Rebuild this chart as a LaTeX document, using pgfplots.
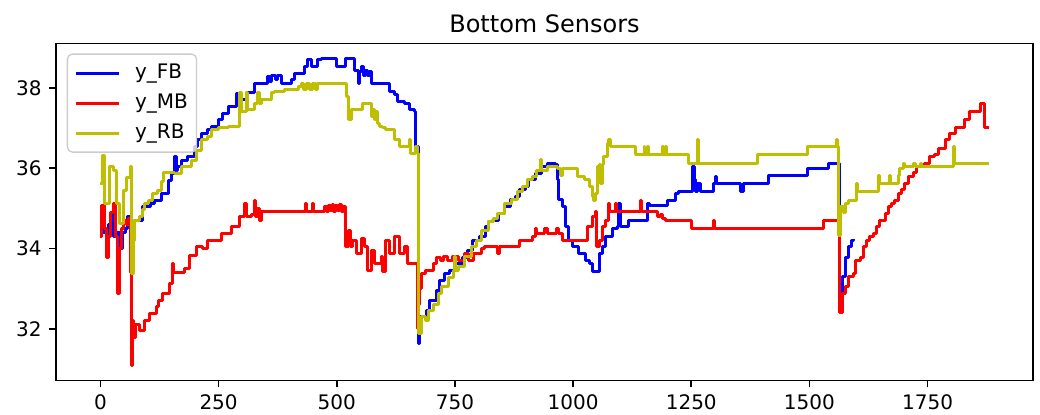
\documentclass[border=0pt]{standalone}
\usepackage{fontspec}
\setmainfont{DejaVu Sans}
\usepackage{pgfplots}
\pgfplotsset{compat=1.18}
\definecolor{myy}{rgb}{0.75,0.75,0}
\begin{document}
\begin{tikzpicture}
\useasboundingbox (-33.6pt,-20.4pt) rectangle (590.4pt,228.2pt);
\begin{axis}[
  at={(0pt,0pt)}, anchor=south west,
  scale only axis, width=586.2pt, height=202.2pt,
  xmin=-94, xmax=1973, ymin=30.723, ymax=39.105,
  xtick={0,250,500,750,1000,1250,1500,1750},
  ytick={32,34,36,38},
  tick align=outside, xtick pos=left, ytick pos=left,
  major tick length=4.2pt,
  tick style={black, line width=0.96pt},
  axis line style={line width=0.96pt},
  /pgf/number format/assume math mode=true,
  /pgf/number format/1000 sep={},
  tick label style={font=\fontsize{12}{14}\selectfont, inner sep=0pt},
  xticklabel shift=4.2pt, yticklabel shift=4.2pt,
  title={Bottom Sensors},
  title style={anchor=base, yshift=0.6pt, font=\fontsize{14.4}{17}\selectfont},
  legend cell align=left,
  legend style={at={(axis description cs:0.011,0.970)}, anchor=north west,
    draw=black!20, line width=0.8pt, fill=white, fill opacity=0.8, text opacity=1, rounded corners=3pt,
    font=\fontsize{12}{14}\selectfont, row sep=6pt, column sep=9.6pt,
    nodes={inner sep=0pt, text height=9pt, text depth=3pt},
    inner xsep=5.2pt, inner ysep=5.4pt},
  legend image code/.code={\draw[#1, line cap=rect] (0.9pt,0pt) -- (24.9pt,0pt);},
  every axis plot/.append style={line width=1.8pt, line join=round, const plot},
]
\addplot[blue] table {
x y
0 34.3
3 34.7
7 34.4
12 33.8
17 34.6
23 34.9
28 34.3
35 34.4
40 34.0
46 34.4
52 34.5
58 34.8
63 34.4
68 34.6
73 34.71
90 35.04
105 35.12
115 35.2
129 35.37
143 35.7
150 35.87
157 36.28
160 35.95
164 36.03
171 36.2
185 36.29
199 36.54
206 36.71
213 36.87
227 36.95
234 37.04
249 37.2
259 37.37
270 37.54
288 37.86
292 37.7
309 37.87
326 38.11
354 38.28
358 38.15
362 38.3
370 38.2
375 38.3
383 38.11
404 38.2
411 38.36
432 38.53
439 38.7
446 38.53
460 38.7
467 38.72
500 38.53
518 38.72
538 38.44
545 38.11
548 38.4
552 38.53
556 38.3
560 38.44
565 38.3
569 38.4
573 38.11
608 38.11
612 37.9
622 37.83
629 37.66
643 37.62
653 37.45
664 37.4
667 36.53
672 36.5
673 31.64
676 32.3
689 32.46
696 32.71
710 32.96
717 33.21
728 33.38
738 33.46
752 33.63
766 33.79
777 33.96
787 34.21
801 34.29
815 34.54
822 34.67
829 34.71
843 34.88
854 35.04
868 35.21
878 35.29
886 35.46
900 35.54
906 35.71
920 35.87
934 36.04
945 36.12
963 36.1
966 35.71
970 35.21
977 35.04
984 34.54
991 34.21
998 34.04
1012 33.88
1027 33.71
1034 33.63
1041 33.42
1051 33.42
1055 33.88
1062 34.04
1069 34.29
1083 34.5
1093 34.54
1097 35.12
1100 34.54
1118 34.71
1157 35.12
1161 35.08
1199 35.2
1217 35.37
1224 35.42
1252 36.04
1256 35.71
1259 35.42
1264 35.62
1270 35.42
1298 35.62
1301 35.79
1304 35.62
1355 35.42
1361 35.62
1414 35.83
1495 36.0
1541 36.12
1563 32.8
1569 33.3
1576 33.79
1583 34.04
1590 34.2
1594 34.25
};
\addlegendentry{y\_FB}
\addplot[red] table {
x y
0 34.29
3 35.08
8 34.5
13 33.79
18 34.3
22 34.9
27 35.12
31 34.3
37 32.88
41 34.0
45 34.5
48 34.71
55 34.6
60 34.76
64 33.4
65.5 31.1
68 32.22
70 31.8
74 32.1
83 31.97
94 32.22
104 32.38
118 32.55
123 32.71
132 32.88
146 33.13
153 33.63
155 33.4
178 33.5
189 33.84
203 34.04
216 34.0
227 34.21
256 34.38
277 34.54
294 34.79
305 35.12
308 34.79
320 34.85
326 35.2
329 34.79
333 35.0
336 34.7
340 34.91
434 35.12
437 34.91
448 35.12
451 34.91
475 35.04
478 34.91
482 35.08
486 34.95
490 35.1
494 34.93
498 35.08
502 34.95
506 35.1
510 34.93
514 35.04
518 34.04
524 34.46
529 34.04
534 34.21
541 33.88
552 34.25
559 34.04
566 33.46
573 33.96
580 33.63
594 33.8
597 33.42
604 34.21
611 33.88
622 34.29
633 33.88
643 34.04
650 33.63
671 32.0
673 32.6
676 33.0
680 33.38
687 33.46
704 33.63
711 33.79
720 33.7
725 33.8
735 33.7
745 33.8
757 33.71
771 33.88
778 33.71
789 33.88
806 34.0
813 34.04
836 34.04
840 33.88
845 34.04
886 34.21
914 34.29
920 34.5
922 34.38
940 34.5
945 34.38
965 34.5
970 34.38
978 34.21
1030 34.54
1040 34.79
1048 34.91
1050 34.04
1055 34.21
1062 34.54
1069 34.71
1074 35.12
1078 34.91
1089 35.12
1092 34.91
1142 35.2
1145 34.91
1178 34.79
1185 34.85
1190 34.75
1196 34.71
1250 34.5
1297 34.71
1300 34.5
1530 34.71
1563 32.42
1569 32.88
1576 33.05
1583 33.3
1593 33.38
1597 33.7
1607 33.79
1614 34.04
1621 34.21
1628 34.29
1635 34.38
1642 34.54
1649 34.7
1660 34.87
1667 35.04
1674 35.12
1681 35.2
1688 35.37
1695 35.46
1702 35.63
1709 35.79
1720 35.88
1727 36.04
1737 36.08
1744 36.12
1755 36.29
1765 36.33
1772 36.5
1787 36.71
1797 36.87
1808 37.0
1829 37.2
1839 37.4
1861 37.6
1870 37.0
1879 37.0
};
\addlegendentry{y\_MB}
\addplot[myy] table {
x y
0 35.62
4 36.32
9 35.12
20 36.03
27 35.95
34 35.12
41 34.62
48 35.45
55 35.78
63 36.03
65.5 33.38
70 34.21
73 34.71
83 34.8
88 34.96
93 35.12
102 35.2
111 35.37
120 35.45
129 35.67
134 35.9
157 35.87
171 36.04
192 36.2
203 36.45
213 36.71
227 36.79
234 36.95
249 37.0
270 37.04
295 37.87
298 37.4
309 37.87
312 37.45
326 37.62
333 37.87
336 37.62
340 37.7
361 37.87
368 37.9
389 37.95
418 38.03
425 38.11
430 37.95
436 38.11
442 37.95
448 38.11
454 37.95
460 38.11
516 38.11
520 37.78
524 37.2
531 37.45
555 37.62
573 37.29
576 37.45
580 37.2
583 37.4
586 37.1
590 37.04
597 37.0
604 36.95
622 36.71
632 36.54
653 36.71
657 36.37
667 36.54
671 36.37
673 31.89
680 32.3
687 32.2
694 32.46
704 32.6
715 32.88
722 33.05
736 33.29
746 33.46
750 33.8
752 33.46
757 33.55
771 33.8
785 34.04
796 34.2
806 34.46
820 34.67
831 34.75
841 34.87
855 35.12
869 35.21
883 35.42
894 35.54
904 35.71
915 35.79
922 35.95
932 36.21
934 35.95
946 36.04
968 36.0
974 35.83
978 36.0
1010 35.79
1024 35.71
1034 35.54
1041 35.29
1044 35.2
1048 35.37
1051 36.04
1055 36.1
1058 35.62
1062 36.1
1065 36.29
1072 36.62
1075 36.71
1079 36.54
1132 36.33
1150 36.54
1152 36.33
1157 36.54
1159 36.33
1189 36.54
1191 36.33
1196 36.54
1198 36.33
1245 36.12
1263 36.71
1265 36.12
1390 36.33
1495 36.54
1557 36.71
1559 36.54
1562 34.33
1566 35.04
1573 34.9
1576 35.12
1583 35.2
1600 35.62
1602 35.42
1646 35.83
1648 35.62
1670 35.83
1672 35.62
1688 35.83
1691 36.0
1698 36.12
1702 36.04
1720 36.12
1724 36.04
1735 36.12
1738 36.04
1804 36.54
1806 36.12
1879 36.12
};
\addlegendentry{y\_RB}
\end{axis}
\end{tikzpicture}
\end{document}
